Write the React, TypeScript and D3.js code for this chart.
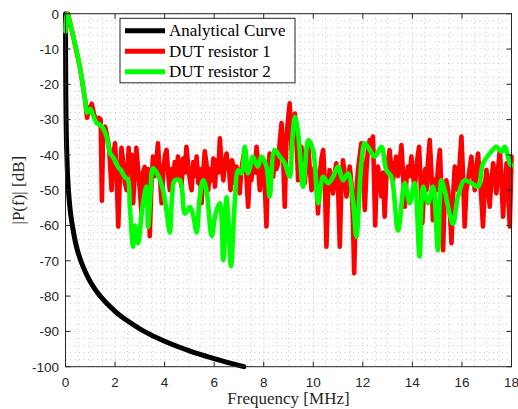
import React from "react";
import * as d3 from "d3";

// ---------- data ----------
const xTicks = [0, 2, 4, 6, 8, 10, 12, 14, 16, 18];
const yTicks = [0, -10, -20, -30, -40, -50, -60, -70, -80, -90, -100];
const legendLabels = ["Analytical Curve", "DUT resistor 1", "DUT resistor 2"];
const xLabel = "Frequency [MHz]";
const yLabel = "|P(f)| [dB]";

// Analytical curve: frequency [MHz], dB
const analyticF = [0, 0.005, 0.01, 0.02, 0.04, 0.07, 0.1, 0.15, 0.2, 0.3, 0.4, 0.5, 0.7, 1.0, 1.4, 2.0, 2.5, 3.1, 4.0, 5.0, 6.0, 7.2];
const analyticDb = [0, -12, -20, -28, -36.5, -43.5, -48, -52.8, -56.3, -61, -64.7, -67.5, -71.5, -75.9, -80, -84.3, -87, -89.7, -92.8, -95.5, -97.7, -100];

// DUT resistor 1
const dut1F = [0, 0.1, 0.25, 0.58, 0.79, 0.87, 0.95, 1.06, 1.15, 1.25, 1.35, 1.42, 1.47, 1.52, 1.6, 1.66, 1.76, 1.86, 1.93, 2.0, 2.06, 2.13, 2.2, 2.26, 2.32, 2.4, 2.47, 2.55, 2.6, 2.67, 2.73, 2.8, 2.86, 2.92, 3.0, 3.07, 3.13, 3.2, 3.27, 3.33, 3.4, 3.47, 3.53, 3.6, 3.67, 3.73, 3.8, 3.88, 3.95, 4.02, 4.08, 4.15, 4.21, 4.28, 4.35, 4.41, 4.48, 4.54, 4.6, 4.68, 4.75, 4.82, 4.88, 4.95, 5.02, 5.09, 5.16, 5.22, 5.29, 5.36, 5.42, 5.49, 5.56, 5.62, 5.69, 5.76, 5.82, 5.9, 5.97, 6.03, 6.1, 6.17, 6.23, 6.3, 6.37, 6.43, 6.5, 6.57, 6.6, 6.66, 6.72, 6.77, 6.83, 6.9, 6.97, 7.03, 7.1, 7.17, 7.24, 7.3, 7.37, 7.44, 7.5, 7.57, 7.64, 7.71, 7.78, 7.84, 7.91, 7.97, 8.04, 8.11, 8.17, 8.24, 8.31, 8.38, 8.45, 8.51, 8.58, 8.65, 8.72, 8.78, 8.85, 8.92, 8.98, 9.05, 9.12, 9.19, 9.26, 9.32, 9.39, 9.46, 9.52, 9.59, 9.66, 9.72, 9.79, 9.86, 9.93, 9.99, 10.06, 10.13, 10.19, 10.26, 10.33, 10.4, 10.47, 10.53, 10.6, 10.66, 10.73, 10.8, 10.87, 10.93, 11.0, 11.07, 11.13, 11.2, 11.27, 11.34, 11.4, 11.47, 11.54, 11.6, 11.65, 11.7, 11.74, 11.81, 11.88, 11.94, 12.01, 12.08, 12.15, 12.21, 12.28, 12.35, 12.41, 12.5, 12.55, 12.61, 12.68, 12.75, 12.82, 12.88, 12.95, 13.01, 13.08, 13.15, 13.22, 13.28, 13.35, 13.42, 13.49, 13.56, 13.62, 13.69, 13.76, 13.82, 13.89, 13.96, 14.02, 14.09, 14.16, 14.22, 14.27, 14.33, 14.4, 14.47, 14.52, 14.57, 14.63, 14.7, 14.77, 14.83, 14.9, 14.97, 15.04, 15.11, 15.17, 15.24, 15.3, 15.37, 15.44, 15.51, 15.58, 15.64, 15.71, 15.78, 15.84, 15.91, 15.98, 16.04, 16.11, 16.18, 16.25, 16.31, 16.38, 16.45, 16.52, 16.58, 16.65, 16.72, 16.78, 16.85, 16.92, 16.99, 17.05, 17.12, 17.19, 17.26, 17.32, 17.39, 17.46, 17.53, 17.6, 17.66, 17.73, 17.8, 17.86, 17.93, 18.0];
const dut1Db = [-5, 0, -4.5, -15, -24.4, -29.5, -27, -25.5, -28.5, -30.5, -29.5, -30, -53, -33, -32, -34, -38, -50, -40, -36.7, -45, -60.3, -45, -38, -41.5, -48, -50, -38, -45.2, -40, -53.7, -44, -38, -43.3, -50, -56.6, -45, -43.4, -52, -44, -63, -48, -40.5, -46, -42, -36.7, -45, -53.7, -44, -40, -38.6, -46, -50, -44, -48, -42, -47, -40.5, -44, -49, -41, -45, -37.7, -43, -47, -50, -42, -46, -40.5, -48, -44, -53.7, -45, -39, -42.4, -50, -44, -47.2, -41, -49, -41.5, -45, -35.3, -43, -47.2, -42, -39.6, -44, -44, -50, -41.5, -43, -48, -43.3, -46, -50.9, -44, -41, -38.6, -46, -54.7, -45, -47.2, -42, -45, -37.7, -44, -50, -45, -42.4, -48, -60.3, -45, -39.6, -43, -46.2, -40, -44, -42.4, -36, -31, -40, -54.7, -34.8, -30, -25.4, -38.6, -32, -28.3, -36, -47.2, -41, -37.7, -44, -48, -42, -36.7, -44, -50, -46, -43.3, -48, -56.6, -46, -41, -38.6, -48, -66, -50, -44.3, -47, -50.9, -45, -42.4, -49, -66, -50, -41.5, -46, -51.8, -47, -43.3, -48, -58, -73.5, -60, -50, -44, -40, -36.7, -45, -55.6, -44, -38, -35.8, -37, -34.8, -60, -48, -43.3, -47, -51.8, -45, -57.5, -46, -42, -38.6, -44, -47.2, -43, -40.5, -46, -42, -37.2, -45, -54.7, -47, -43.3, -46, -40.5, -45, -50, -44, -40, -37.7, -47, -59.4, -50, -44, -50, -42, -35.8, -45, -58.5, -47, -50, -43, -38.6, -50, -67, -52, -47.2, -50, -56, -65, -52, -43.3, -46, -50, -42, -34.8, -45, -60.3, -50, -47.2, -44, -40.5, -46, -50, -44, -39.6, -46, -52, -60.3, -49, -44.3, -48, -54.7, -47, -42.4, -46, -50.9, -44, -38.6, -48, -57.5, -48, -42.4, -50, -60.3, -40.5];

// DUT resistor 2
const dut2F = [0, 0.05, 0.1, 0.25, 0.58, 0.79, 0.88, 1.0, 1.1, 1.26, 1.4, 1.52, 1.66, 1.8, 1.95, 2.12, 2.25, 2.4, 2.52, 2.6, 2.73, 2.8, 2.93, 3.1, 3.27, 3.33, 3.42, 3.53, 3.67, 3.81, 3.94, 4.08, 4.21, 4.3, 4.41, 4.62, 4.82, 5.02, 5.15, 5.29, 5.42, 5.56, 5.69, 5.9, 6.05, 6.23, 6.37, 6.5, 6.58, 6.68, 6.83, 6.97, 7.1, 7.24, 7.36, 7.46, 7.56, 7.76, 7.91, 8.11, 8.24, 8.44, 8.65, 8.85, 9.05, 9.15, 9.26, 9.39, 9.59, 9.8, 9.99, 10.2, 10.4, 10.6, 10.8, 11.0, 11.2, 11.4, 11.6, 11.74, 11.94, 12.08, 12.28, 12.48, 12.75, 12.95, 13.15, 13.42, 13.69, 13.89, 14.09, 14.29, 14.43, 14.63, 14.83, 15.03, 15.17, 15.3, 15.5, 15.64, 15.84, 16.1, 16.38, 16.65, 16.85, 17.12, 17.39, 17.6, 17.73, 17.93, 18.0];
const dut2Db = [-5, 0, -0.5, -4.6, -15, -24.4, -28, -27, -28.5, -31, -31.5, -32.5, -34.8, -39.5, -41, -43.4, -44.5, -46.3, -47.1, -55, -66, -60, -65, -55, -49, -60.4, -52, -43.8, -45, -47, -50, -56, -62, -52, -47.2, -47.2, -56.6, -54.8, -57, -62, -52, -47.2, -50, -63, -57, -53.7, -69.8, -52, -60, -71.5, -53.7, -44.3, -45.2, -37.7, -45.2, -43, -40.5, -43.3, -40.5, -43.3, -51.8, -38.6, -40.5, -42.4, -46.2, -36, -29.2, -33.9, -49, -35.8, -38.6, -53.7, -46.2, -48, -46.2, -43.3, -47.2, -45.2, -52.8, -63.2, -42.4, -36.7, -38.6, -40.5, -37.7, -44.3, -46.2, -61.4, -48, -53.7, -48, -68.8, -49, -53.7, -49, -67, -47.2, -50, -56.6, -59.5, -51.8, -47.2, -48, -49, -42.4, -39.6, -37.7, -39.1, -37.7, -42.4, -43];

// ---------- layout ----------
const W = 518;
const H = 409;
const L = 65.5;
const R = 511.5;
const T = 13.7;
const B = 366.7;
const AX = "#262626";

export default function App() {
  const x = d3.scaleLinear().domain([0, 18]).range([L, R]);
  const y = d3.scaleLinear().domain([-100, 0]).range([B, T]);

  const mk = (fs: number[], ds: number[]) => fs.map((f, i) => [f, ds[i]] as [number, number]);
  const lineLin = d3.line<[number, number]>().x((d) => x(d[0])).y((d) => y(d[1]));
  const lineSmooth = d3
    .line<[number, number]>()
    .x((d) => x(d[0]))
    .y((d) => y(d[1]))
    .curve(d3.curveCatmullRom.alpha(0.5));

  const xMinor = d3.range(0, 18.001, 0.5);
  const yMinor = d3.range(-100, 0.001, 2);

  const series = [
    { name: legendLabels[0], color: "#000000", width: 5, d: lineSmooth(mk(analyticF, analyticDb)) },
    { name: legendLabels[1], color: "#ff0000", width: 4.6, d: lineLin(mk(dut1F, dut1Db)) },
    { name: legendLabels[2], color: "#00ff00", width: 4.6, d: lineSmooth(mk(dut2F, dut2Db)) },
  ];

  const tl = 5;
  const lgX = 120;
  const lgY = 18.3;
  const lgW = 175;
  const lgH = 64.5;

  return (
    <svg
      width={W}
      height={H}
      style={{ position: "absolute", left: 0, top: 0, background: "#fff" }}
      xmlns="http://www.w3.org/2000/svg"
    >
      <rect x={0} y={0} width={W} height={H} fill="#fff" />
      {/* grid */}
      <g stroke="#c4c4c4" strokeWidth={1} strokeDasharray="1,3.5">
        {xMinor.map((v, i) => (
          <line key={"gx" + i} x1={x(v)} x2={x(v)} y1={T} y2={B} />
        ))}
        {yMinor.map((v, i) => (
          <line key={"gy" + i} x1={L} x2={R} y1={y(v)} y2={y(v)} />
        ))}
      </g>

      {/* data */}
      {series.map((s, i) => (
        <path
          key={"s" + i}
          d={s.d || ""}
          fill="none"
          stroke={s.color}
          strokeWidth={s.width}
          strokeLinejoin="round"
          strokeLinecap="round"
        />
      ))}

      {/* axes box */}
      <rect x={L} y={T} width={R - L} height={B - T} fill="none" stroke={AX} strokeWidth={1} />
      <g stroke={AX} strokeWidth={1}>
        {xTicks.map((v, i) => (
          <g key={"xt" + i}>
            <line x1={x(v)} x2={x(v)} y1={B} y2={B - tl} />
            <line x1={x(v)} x2={x(v)} y1={T} y2={T + tl} />
          </g>
        ))}
        {yTicks.map((v, i) => (
          <g key={"yt" + i}>
            <line x1={L} x2={L + tl} y1={y(v)} y2={y(v)} />
            <line x1={R} x2={R - tl} y1={y(v)} y2={y(v)} />
          </g>
        ))}
      </g>
      <g fill={AX} fontFamily="'Liberation Sans', Arial, sans-serif" fontSize={13.5}>
        {xTicks.map((v, i) => (
          <text key={"xl" + i} x={x(v)} y={387} textAnchor="middle">
            {String(v)}
          </text>
        ))}
        {yTicks.map((v, i) => (
          <text key={"yl" + i} x={59} y={y(v) + 4.8} textAnchor="end">
            {String(v)}
          </text>
        ))}
      </g>

      {/* axis labels */}
      <text
        x={(L + R) / 2}
        y={404}
        textAnchor="middle"
        fontFamily="'Liberation Serif', 'Times New Roman', serif"
        fontSize={17}
        fill={AX}
      >
        {xLabel}
      </text>
      <text
        transform={`translate(24,${(T + B) / 2}) rotate(-90)`}
        textAnchor="middle"
        fontFamily="'Liberation Serif', 'Times New Roman', serif"
        fontSize={17}
        fill={AX}
      >
        {yLabel}
      </text>

      {/* legend */}
      <rect x={lgX} y={lgY} width={lgW} height={lgH} fill="#fff" stroke={AX} strokeWidth={1} />
      {series.map((s, i) => {
        const cy = 30.7 + i * 20.5;
        return (
          <g key={"lg" + i}>
            <line x1={125} x2={165} y1={cy} y2={cy} stroke={s.color} strokeWidth={5} />
            <text
              x={169}
              y={cy + 5.5}
              fontFamily="'Liberation Serif', 'Times New Roman', serif"
              fontSize={17}
              fill="#000"
            >
              {s.name}
            </text>
          </g>
        );
      })}
    </svg>
  );
}
